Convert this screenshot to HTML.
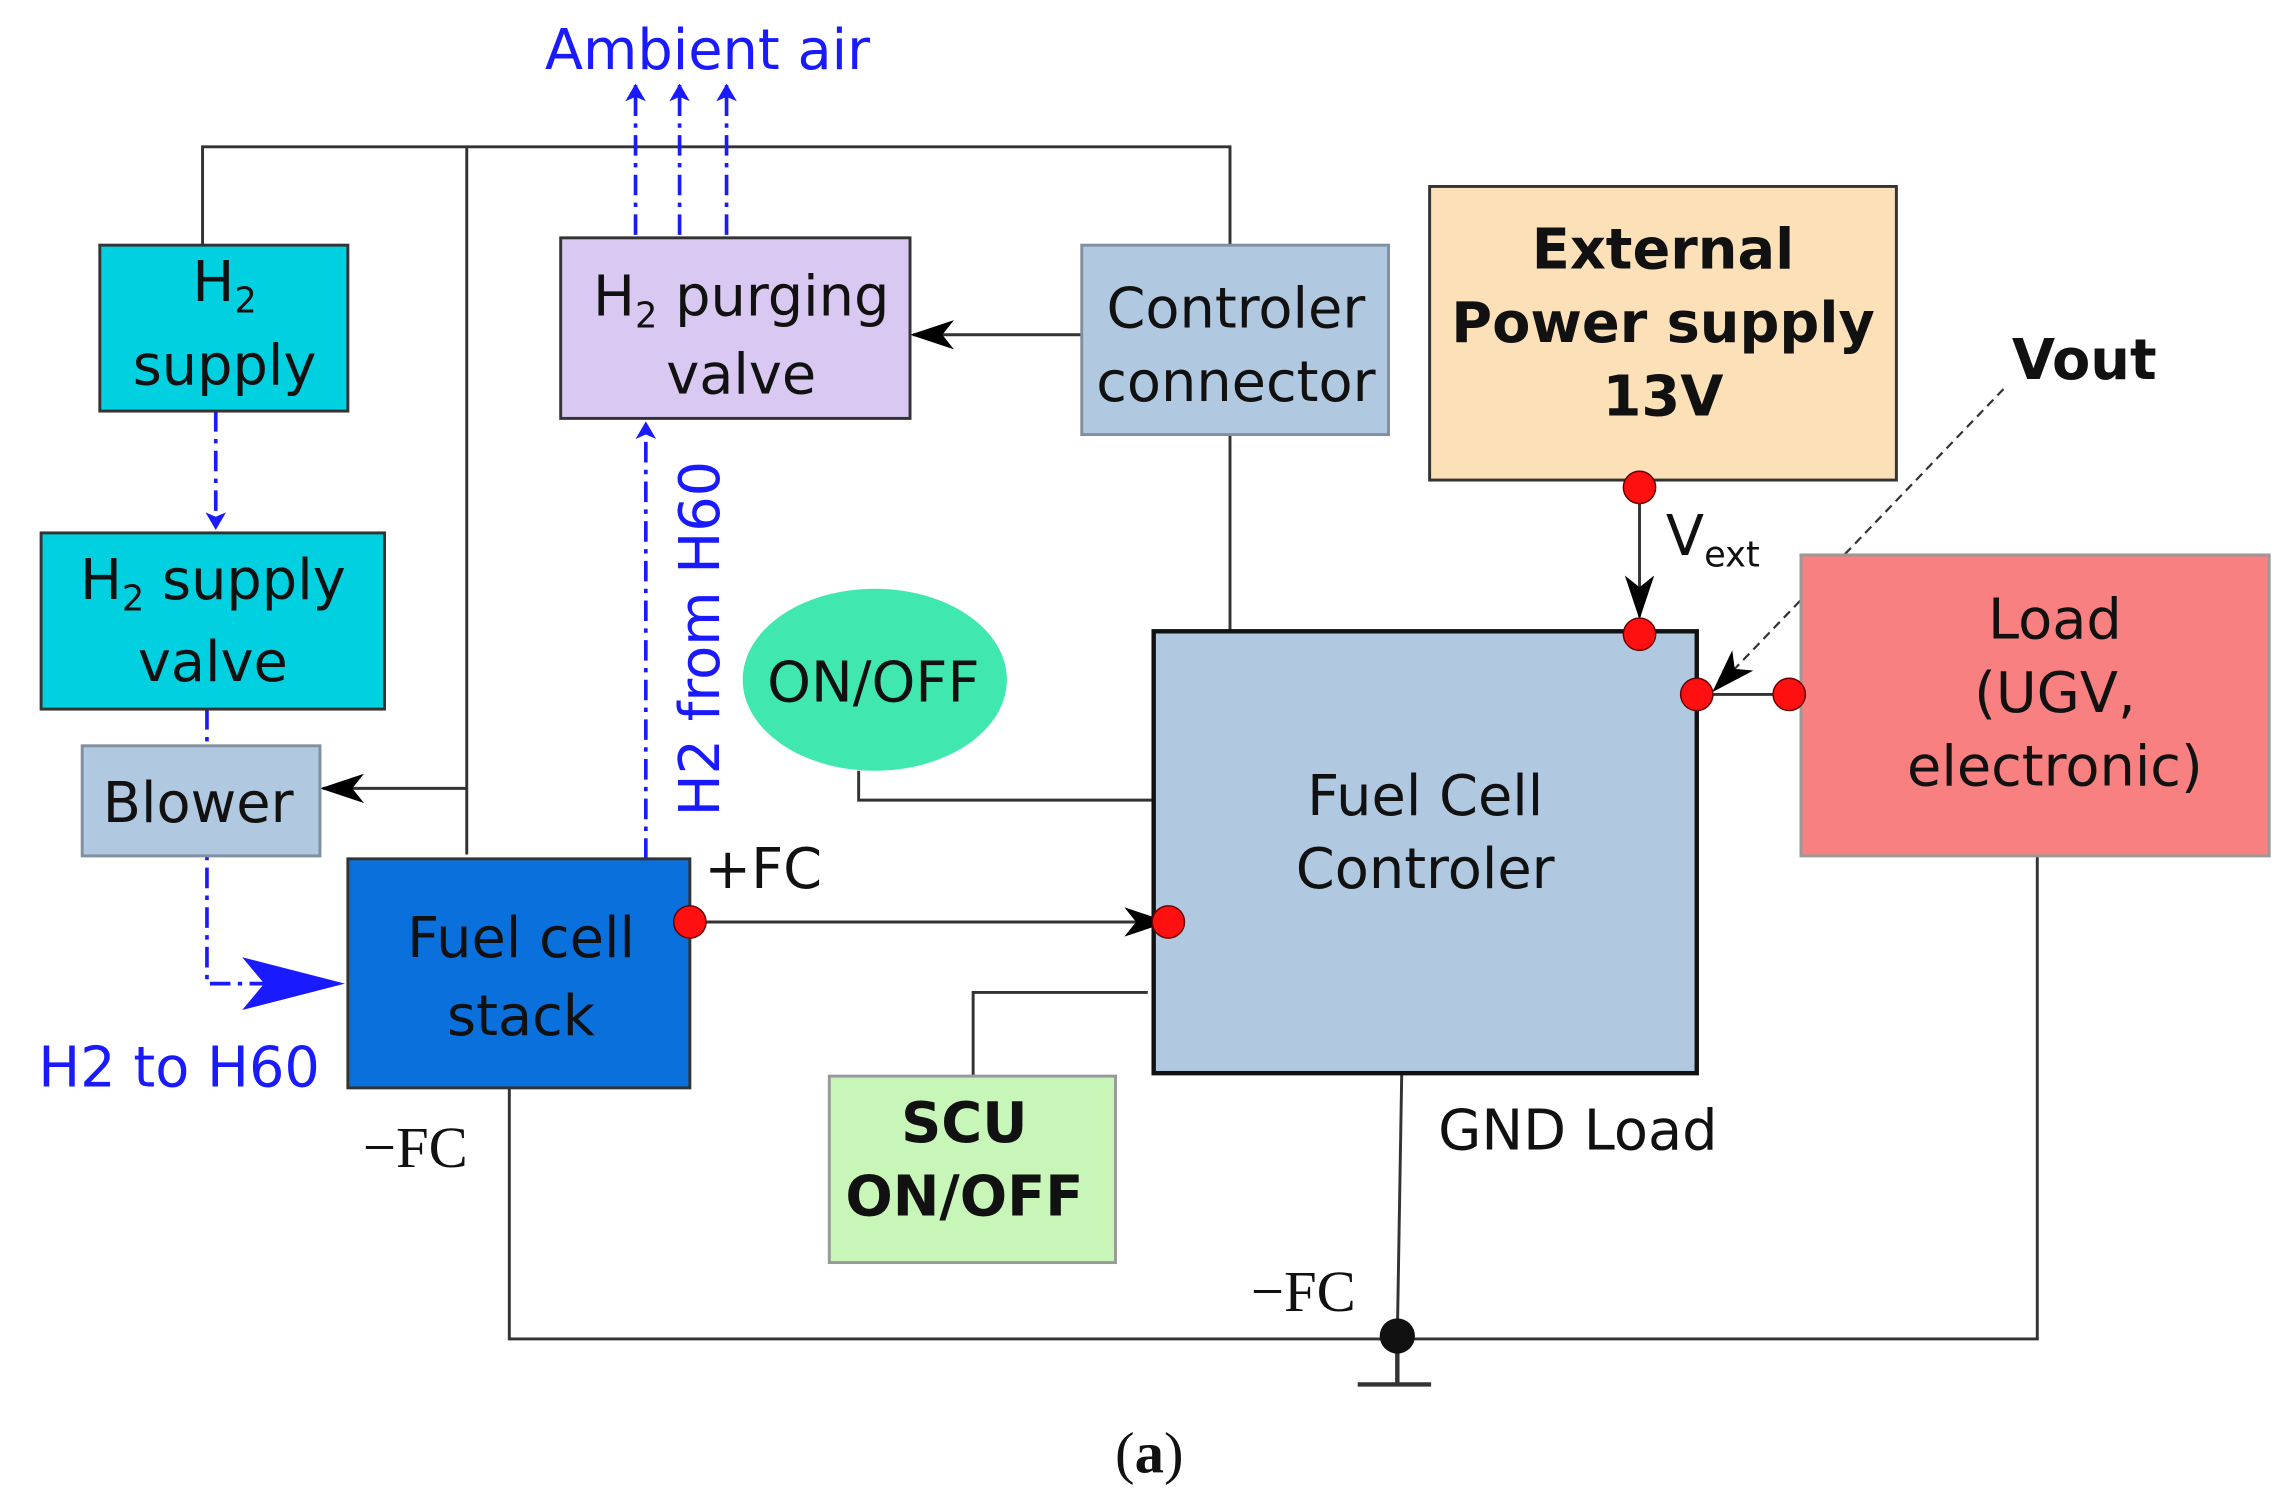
<!DOCTYPE html>
<html><head><meta charset="utf-8"><style>html,body{margin:0;padding:0;background:#fff}svg{display:block}</style></head>
<body>
<svg width="2278" height="1496" viewBox="0 0 1552 1019" preserveAspectRatio="none" xmlns="http://www.w3.org/2000/svg" font-family="'DejaVu Sans','Liberation Sans',sans-serif">
<defs>
<marker id="ak" markerWidth="10" markerHeight="10" refX="9" refY="5" orient="auto" markerUnits="userSpaceOnUse"><path d="M0,0 L10,5 L0,10 L3,5z" fill="#000"/></marker>
<marker id="ab" markerWidth="12" markerHeight="14" refX="11" refY="7" orient="auto" markerUnits="userSpaceOnUse"><path d="M0,0 L12,7 L0,14 L3,7z" fill="#1a1aff"/></marker>
<marker id="ak2" markerWidth="30" markerHeight="20" refX="28" refY="10" orient="auto" markerUnits="userSpaceOnUse"><path d="M0,0 L30,10 L0,20 L8,10z" fill="#000"/></marker>
</defs>
<g stroke="#333" stroke-width="2" fill="none">
<path d="M138,167 V100 H838 V167"/>
<path d="M318,100 V582"/>
<path d="M318,537 H220" marker-end="url(#ak2)"/>
<path d="M737,228 H622" marker-end="url(#ak2)"/>
<path d="M838,296 V430"/>
<path d="M585,525 V545 H790 V560"/>
<path d="M663,733 V676 H782"/>
<path d="M955,731 L952,910"/>
<path d="M347,741 V912 H1388 V583"/>
<path d="M952,910 V943 M925,943 H975" stroke-width="3"/>
<path d="M1117,332 V420" marker-end="url(#ak2)"/>
<path d="M1156,473 H1219"/>
<path d="M470,628 H794" marker-end="url(#ak2)"/>
</g>
<path d="M1365,265 L1168,470" stroke="#333" stroke-width="1.5" stroke-dasharray="6,4" fill="none" marker-end="url(#ak2)"/>
<g stroke="#1a1aff" stroke-width="2.5" fill="none" stroke-dasharray="14,5,3,5">
<path d="M147,280 V360" marker-end="url(#ab)"/>
<path d="M141,483 V670 H180"/>
<path d="M440,585 V288" marker-end="url(#ab)"/>
<path d="M433,160 V58" marker-end="url(#ab)"/>
<path d="M463,160 V58" marker-end="url(#ab)"/>
<path d="M495,160 V58" marker-end="url(#ab)"/>
</g>
<path d="M165,652 L235,670 L165,688 L180,670z" fill="#1a1aff"/>
<g stroke="#333" stroke-width="2">
<rect x="68" y="167" width="169" height="113" fill="#00d0e0"/>
<rect x="28" y="363" width="234" height="120" fill="#00d0e0"/>
<rect x="56" y="508" width="162" height="75" fill="#b0c8e0" stroke="#8090a0"/>
<rect x="237" y="585" width="233" height="156" fill="#0a70dc"/>
<rect x="382" y="162" width="238" height="123" fill="#d8c8f2"/>
<rect x="737" y="167" width="209" height="129" fill="#b0c8e0" stroke="#8090a0"/>
<rect x="974" y="127" width="318" height="200" fill="#fbe0b8"/>
<rect x="786" y="430" width="370" height="301" fill="#b0c8e0" stroke="#111" stroke-width="3"/>
<rect x="1227" y="378" width="319" height="205" fill="#f88080" stroke="#999"/>
<rect x="565" y="733" width="195" height="127" fill="#c8f5b8" stroke="#999"/>
</g>
<ellipse cx="596" cy="463" rx="90" ry="62" fill="#40e8b0"/>
<g fill="#ff1010" stroke="#600" stroke-width="1">
<circle cx="1117" cy="332" r="11"/><circle cx="1117" cy="432" r="11"/>
<circle cx="1156" cy="473" r="11"/><circle cx="1219" cy="473" r="11"/>
<circle cx="470" cy="628" r="11"/><circle cx="796" cy="628" r="11"/>
</g>
<circle cx="952" cy="910" r="12" fill="#111"/>
<g font-size="38" fill="#111" text-anchor="middle">
<text x="153" y="205">H<tspan font-size="24" dy="8">2</tspan></text>
<text x="153" y="262">supply</text>
<text x="145" y="408">H<tspan font-size="24" dy="8">2</tspan><tspan dy="-8"> supply</tspan></text>
<text x="145" y="464">valve</text>
<text x="135" y="560">Blower</text>
<text x="355" y="652">Fuel cell</text>
<text x="355" y="705">stack</text>
<text x="505" y="215">H<tspan font-size="24" dy="8">2</tspan><tspan dy="-8"> purging</tspan></text>
<text x="505" y="268">valve</text>
<text x="842" y="223">Controler</text>
<text x="842" y="273">connector</text>
<text x="1133" y="183" font-weight="bold">External</text>
<text x="1133" y="233" font-weight="bold">Power supply</text>
<text x="1133" y="283" font-weight="bold">13V</text>
<text x="971" y="555">Fuel Cell</text>
<text x="971" y="605">Controler</text>
<text x="1400" y="435">Load</text>
<text x="1400" y="485">(UGV,</text>
<text x="1400" y="535">electronic)</text>
<text x="595" y="478">ON/OFF</text>
<text x="657" y="778" font-weight="bold">SCU</text>
<text x="657" y="828" font-weight="bold">ON/OFF</text>
<text x="520" y="605">+FC</text>
<text x="1075" y="783">GND Load</text>
<text x="1420" y="258" font-weight="bold">Vout</text>
<text x="1135" y="378" text-anchor="start">V<tspan font-size="24" dy="8">ext</tspan></text>
</g>
<g font-size="38" fill="#1a1aff" text-anchor="middle">
<text x="482" y="47">Ambient air</text>
<text x="122" y="740">H2 to H60</text>
<text transform="translate(490,435) rotate(-90)">H2 from H60</text>
</g>
<g font-family="'Liberation Serif',serif" font-size="40" fill="#111" text-anchor="middle">
<text x="283" y="795">−FC</text>
<text x="888" y="893">−FC</text>
<text x="783" y="1003">(<tspan font-weight="bold">a</tspan>)</text>
</g>
</svg>
</body></html>
